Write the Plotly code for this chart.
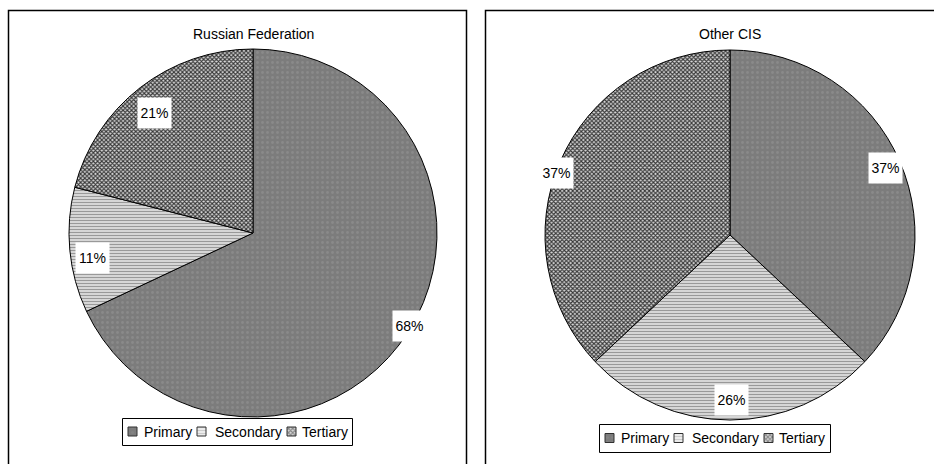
import math
import plotly.graph_objects as go

# Employment shares by sector
sectors = ["Primary", "Secondary", "Tertiary"]
russia_values = [68, 11, 21]
other_cis_values = [37, 26, 37]
panel_titles = ["Russian Federation", "Other CIS"]

W, H = 934, 464
FONT = "Liberation Sans, Arial, sans-serif"

# fill style per sector: solid grey, horizontal stripes, fine cross-hatch
fills = [
    dict(color="#7c7c7c", shape=".", fg="#8a8a8a", bg="#7c7c7c", size=5, solidity=0.25),
    dict(color="#c8c8c8", shape="-", fg="#999999", bg="#ffffff", size=3, solidity=0.6),
    dict(color="#808080", shape="x", fg="#383838", bg="#d9d9d9", size=3, solidity=0.6),
]


def pattern_of(items):
    return dict(
        shape=[f["shape"] for f in items],
        fgcolor=[f["fg"] for f in items],
        bgcolor=[f["bg"] for f in items],
        size=[f["size"] for f in items],
        solidity=[f["solidity"] for f in items],
    )


# pie placement (px): centre, radius, radial position and nudge of each % label
pies = [
    dict(values=russia_values, cx=253, cy=233, r=184,
         label_r=[0.99, 0.90, 0.85], nudge=[(3, -5), (4, 9), (-3, 4)]),
    dict(values=other_cis_values, cx=730, cy=235, r=185,
         label_r=[0.91, 0.89, 1.0], nudge=[(1, 0), (1, 0), (-4, 11)]),
]
# legend boxes (px): left, top, right, bottom
legend_boxes = [(122, 418, 352, 445), (599, 424, 830, 452)]
swatch_dx = [6, 75, 165]     # swatch left edge offsets within a legend box
text_dx = [20, 91, 178]      # label left edge offsets within a legend box
SW = 9                       # swatch size

fig = go.Figure()
annotations = []
shapes = []

for title, p in zip(panel_titles, pies):
    cx, cy, r = p["cx"], p["cy"], p["r"]
    fig.add_trace(go.Pie(
        labels=sectors,
        values=p["values"],
        sort=False,
        direction="clockwise",
        rotation=0,
        textinfo="none",
        hoverinfo="label+percent",
        showlegend=False,
        marker=dict(colors=[f["color"] for f in fills],
                    line=dict(color="#000000", width=1),
                    pattern=pattern_of(fills)),
        domain=dict(x=[(cx - r) / W, (cx + r) / W],
                    y=[1 - (cy + r) / H, 1 - (cy - r) / H]),
    ))
    # percentage labels on white boxes near each slice's mid-angle
    total = sum(p["values"])
    cum = 0
    for v, f, (dx, dy) in zip(p["values"], p["label_r"], p["nudge"]):
        mid = (cum + v / 2) / total * 2 * math.pi
        cum += v
        px = cx + f * r * math.sin(mid)
        py = cy - f * r * math.cos(mid)
        annotations.append(dict(
            x=px / W, y=1 - py / H, xref="paper", yref="paper",
            xanchor="center", yanchor="middle", xshift=dx, yshift=-dy,
            text=f"{round(v / total * 100)}%", showarrow=False,
            bgcolor="#ffffff", width=31, height=28,
            font=dict(family=FONT, size=14, color="#000000"),
        ))
    annotations.append(dict(
        x=cx / W, y=1 - 34 / H, xref="paper", yref="paper",
        xanchor="center", yanchor="middle",
        text=title, showarrow=False,
        font=dict(family=FONT, size=14, color="#000000"),
    ))

# panel frames
shapes += [
    dict(type="rect", xref="paper", yref="paper", layer="above",
         x0=8.5 / W, x1=466.5 / W, y0=-0.05, y1=1 - 10.5 / H,
         line=dict(color="#000000", width=1.5), fillcolor="rgba(0,0,0,0)"),
    dict(type="rect", xref="paper", yref="paper", layer="above",
         x0=485.5 / W, x1=1.05, y0=-0.05, y1=1 - 10.5 / H,
         line=dict(color="#000000", width=1.5), fillcolor="rgba(0,0,0,0)"),
]

# legends: framed boxes with patterned swatches and sector names
for (x0, y0, x1, y1) in legend_boxes:
    shapes.append(dict(type="rect", xref="x", yref="y", layer="below",
                       x0=x0 + 0.5, x1=x1 + 0.5, y0=y0 + 0.5, y1=y1 + 0.5,
                       line=dict(color="#000000", width=1), fillcolor="#ffffff"))

for i, name in enumerate(sectors):
    f = fills[i]
    xs, bases = [], []
    for (x0, y0, x1, y1) in legend_boxes:
        yc = (y0 + y1) / 2
        xs.append(x0 + swatch_dx[i] + SW / 2)
        bases.append(yc - SW / 2)
        annotations.append(dict(
            x=x0 + text_dx[i], y=yc, xref="x", yref="y",
            xanchor="left", yanchor="middle", text=name, showarrow=False,
            font=dict(family=FONT, size=14, color="#000000"),
        ))
    fig.add_trace(go.Bar(
        name=name, x=xs, y=[SW] * len(xs), base=bases, width=SW,
        marker=dict(color=f["color"],
                    line=dict(color="#303030", width=1),
                    pattern=dict(shape=f["shape"], fgcolor=f["fg"],
                                 bgcolor=f["bg"], size=f["size"],
                                 solidity=f["solidity"])),
        hoverinfo="skip", showlegend=False,
    ))

fig.update_layout(
    width=W, height=H,
    margin=dict(l=0, r=0, t=0, b=0),
    paper_bgcolor="#ffffff",
    plot_bgcolor="rgba(0,0,0,0)",
    font=dict(family=FONT, size=14, color="#000000"),
    annotations=annotations,
    shapes=shapes,
    showlegend=False,
    barmode="overlay",
    xaxis=dict(range=[0, W], domain=[0, 1], visible=False, fixedrange=True),
    yaxis=dict(range=[H, 0], domain=[0, 1], visible=False, fixedrange=True),
)

fig.write_html("out.html")
